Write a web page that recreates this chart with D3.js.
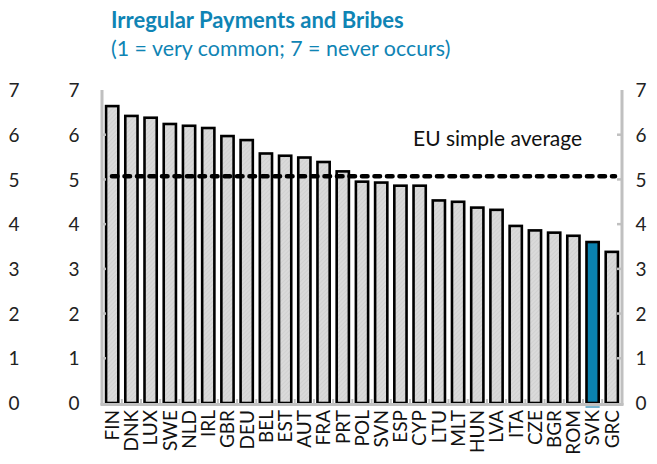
<!DOCTYPE html>
<html>
<head>
<meta charset="utf-8">
<script src="https://cdn.jsdelivr.net/npm/d3@7"></script>
<style>
  html, body { margin: 0; padding: 0; background: #fff; }
  svg { display: block; font-family: Lato, "Open Sans", sans-serif; }
</style>
</head>
<body>
<svg id="chart" width="657" height="464"></svg>
<script>
const countryList = ["FIN","DNK","LUX","SWE","NLD","IRL","GBR","DEU","BEL","EST","AUT","FRA","PRT","POL","SVN","ESP","CYP","LTU","MLT","HUN","LVA","ITA","CZE","BGR","ROM","SVK","GRC"];
const values = [6.64,6.42,6.38,6.24,6.20,6.15,5.97,5.88,5.58,5.53,5.49,5.39,5.18,4.95,4.93,4.86,4.86,4.53,4.50,4.37,4.32,3.96,3.86,3.81,3.74,3.60,3.38];
const highlight = ["SVK"];
const euAverage = 5.07;
const yTicks = [0,1,2,3,4,5,6,7];
const titleText = "Irregular Payments and Bribes";
const subtitleText = "(1 = very common; 7 = never occurs)";
const averageLabel = "EU simple average";

const svg = d3.select("#chart");
const pLeft = 102, pRight = 622, pTop = 90, pBottom = 403;
const axisGrey = "#c0c0c0";
const teal = "#0f84b4";

const x = d3.scaleBand().domain(countryList).range([pLeft, pRight]).paddingInner(0.26).paddingOuter(0.16);
const y = d3.scaleLinear().domain([0, 7]).range([pBottom, pTop]);

// hatch pattern
const defs = svg.append("defs");
const pat = defs.append("pattern").attr("id", "hatch").attr("patternUnits", "userSpaceOnUse")
  .attr("width", 3).attr("height", 3).attr("patternTransform", "rotate(45)");
pat.append("rect").attr("width", 3).attr("height", 3).attr("fill", "#dadada");
pat.append("line").attr("x1", 0).attr("y1", 0).attr("x2", 0).attr("y2", 3).attr("stroke", "#c8c8c8").attr("stroke-width", 1);

// Titles
svg.append("text").attr("x", 111).attr("y", 28).attr("fill", teal)
  .attr("font-weight", "bold").attr("font-size", 22).text(titleText);
svg.append("text").attr("x", 111).attr("y", 56).attr("fill", teal)
  .attr("font-size", 21.4).text(subtitleText);

// Bars
svg.append("g").selectAll("rect").data(countryList).join("rect")
  .attr("x", d => x(d) + 1)
  .attr("width", x.bandwidth() - 2)
  .attr("y", (d, i) => y(values[i]))
  .attr("height", (d, i) => y(0) - y(values[i]))
  .attr("fill", d => highlight.includes(d) ? "#0a82b0" : "url(#hatch)")
  .attr("stroke", "#000").attr("stroke-width", 2.6);

// Axis lines (grey)
const axes = svg.append("g");
axes.append("line").attr("x1", pLeft).attr("x2", pLeft).attr("y1", pTop).attr("y2", pBottom + 2)
  .attr("stroke", axisGrey).attr("stroke-width", 3);
axes.append("line").attr("x1", pRight).attr("x2", pRight).attr("y1", pTop).attr("y2", pBottom + 2)
  .attr("stroke", axisGrey).attr("stroke-width", 3);
axes.append("line").attr("x1", pLeft - 1.5).attr("x2", pRight + 1.5).attr("y1", pBottom + 1.5).attr("y2", pBottom + 1.5)
  .attr("stroke", axisGrey).attr("stroke-width", 3);

// Y ticks inside
axes.selectAll(".lt").data(yTicks.slice(1, 7)).join("line")
  .attr("x1", pLeft).attr("x2", pLeft + 4).attr("y1", d => y(d)).attr("y2", d => y(d))
  .attr("stroke", axisGrey).attr("stroke-width", 2.5);
axes.selectAll(".rt").data(yTicks.slice(1, 7)).join("line")
  .attr("x1", pRight - 5).attr("x2", pRight).attr("y1", d => y(d)).attr("y2", d => y(d))
  .attr("stroke", axisGrey).attr("stroke-width", 2.5);
// x boundary ticks
const step = x.step();
axes.selectAll(".bt").data(countryList.slice(1)).join("line")
  .attr("x1", d => x(d) - (step - x.bandwidth()) / 2).attr("x2", d => x(d) - (step - x.bandwidth()) / 2)
  .attr("y1", pBottom).attr("y2", pBottom - 4)
  .attr("stroke", axisGrey).attr("stroke-width", 2);

// highlight underline below axis
svg.append("line").attr("x1", x("SVK")).attr("x2", x("SVK") + x.bandwidth())
  .attr("y1", pBottom + 4).attr("y2", pBottom + 4).attr("stroke", "#4a9cc0").attr("stroke-width", 1.5);

// EU average dashed line
svg.append("line").attr("x1", pLeft + 10).attr("x2", pRight - 7)
  .attr("y1", y(euAverage)).attr("y2", y(euAverage))
  .attr("stroke", "#000").attr("stroke-width", 4.6).attr("stroke-linecap", "round")
  .attr("stroke-dasharray", "5.5 7");
svg.append("text").attr("x", 413).attr("y", 146).attr("font-size", 21).attr("fill", "#111")
  .text(averageLabel);

// Tick label axes
function labelAxis(xpos, orient) {
  const ax = (orient === "left" ? d3.axisLeft(y) : d3.axisRight(y)).tickValues(yTicks).tickSize(0).tickPadding(0).tickFormat(d3.format("d"));
  const g = svg.append("g").attr("transform", `translate(${xpos},0)`).call(ax);
  g.select(".domain").remove();
  g.selectAll("text").attr("text-anchor", "middle").attr("font-size", 19).attr("fill", "#222")
    .attr("font-family", "Lato, 'Open Sans', sans-serif").attr("dy", "0.35em");
}
labelAxis(14, "left");
labelAxis(74, "left");
labelAxis(641, "right");

// X axis labels (rotated)
const xa = d3.axisBottom(x).tickSize(0).tickPadding(0);
const xg = svg.append("g").attr("transform", `translate(0,${pBottom + 6})`).call(xa);
xg.select(".domain").remove();
xg.selectAll("text")
  .attr("transform", "rotate(-90)")
  .attr("text-anchor", "end")
  .attr("x", -1).attr("y", 0).attr("dy", "0.36em")
  .attr("font-size", 19).attr("fill", "#111")
  .attr("font-family", "Lato, 'Open Sans', sans-serif");
</script>
</body>
</html>
